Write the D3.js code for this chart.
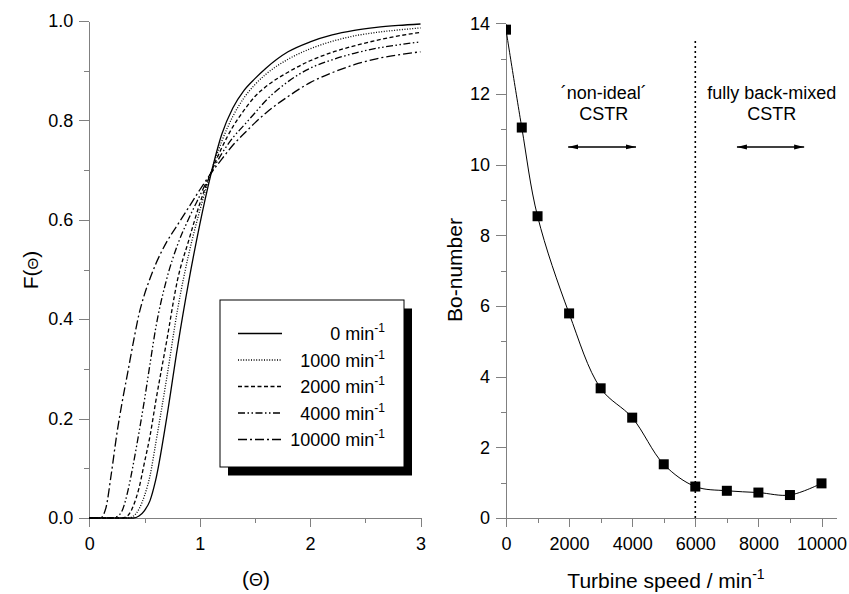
<!DOCTYPE html>
<html>
<head>
<meta charset="utf-8">
<script src="https://cdn.jsdelivr.net/npm/d3@7/dist/d3.min.js"></script>
<style>
  body { margin: 0; background: #fff; }
  svg { display: block; font-family: "Liberation Sans", Arial, sans-serif; }
  .axis path, .axis line { stroke: #808080; shape-rendering: crispEdges; }
  .axis text { fill: #000; font-size: 18px; font-family: "Liberation Sans", Arial, sans-serif; }
</style>
</head>
<body>
<div id="viewportContainer"></div>
<script>
/* --- ビューポート --- */
const viewport = {width: 849, height: 594};
const leftArea = {left: 89.3, right: 420.5, top: 21, bottom: 518};
const rightArea = {left: 506, right: 821.5, top: 23.3, bottom: 518};

/* --- データ（左：F(Θ)曲線） --- */
const thetaValues = [0, 0.1, 0.15, 0.2, 0.25, 0.3, 0.35, 0.4, 0.45, 0.5, 0.55, 0.6, 0.7, 0.8, 0.9,
    1.0, 1.1, 1.2, 1.3, 1.4, 1.5, 1.6, 1.8, 2.0, 2.2, 2.4, 2.6, 2.8, 3.0];
const F0 = [0, 0, 0, 0, 0, 0, 0, 0, 0.004, 0.015, 0.035, 0.075, 0.20, 0.345, 0.475,
    0.59, 0.69, 0.772, 0.825, 0.86, 0.884, 0.905, 0.938, 0.958, 0.972, 0.981, 0.987, 0.991, 0.994];
const F1000 = [0, 0, 0, 0, 0, 0, 0, 0.004, 0.018, 0.045, 0.085, 0.148, 0.28, 0.42, 0.53,
    0.618, 0.694, 0.758, 0.808, 0.845, 0.872, 0.893, 0.923, 0.944, 0.959, 0.970, 0.977, 0.982, 0.986];
const F2000 = [0, 0, 0, 0, 0, 0, 0.005, 0.025, 0.06, 0.112, 0.165, 0.232, 0.355, 0.48, 0.558,
    0.632, 0.694, 0.745, 0.787, 0.82, 0.848, 0.868, 0.897, 0.92, 0.937, 0.95, 0.961, 0.97, 0.977];
const F4000 = [0, 0, 0, 0, 0.003, 0.016, 0.055, 0.11, 0.172, 0.238, 0.31, 0.38, 0.48, 0.55, 0.602,
    0.648, 0.693, 0.733, 0.765, 0.79, 0.815, 0.84, 0.878, 0.905, 0.922, 0.935, 0.945, 0.952, 0.958];
const F10000 = [0, 0, 0.02, 0.09, 0.17, 0.236, 0.295, 0.355, 0.41, 0.45, 0.482, 0.51, 0.555, 0.59, 0.625,
    0.66, 0.693, 0.722, 0.75, 0.773, 0.795, 0.815, 0.848, 0.876, 0.896, 0.912, 0.924, 0.932, 0.938];

const seriesLabels = ["0", "1000", "2000", "4000", "10000"];
const seriesValues = [F0, F1000, F2000, F4000, F10000];
const seriesDash = ["none", "1,1.6", "4,2.5", "7,2.5,1.5,2.5,1.5,2.5", "9,3,2,3"];

/* --- データ（右：Bo数） --- */
const turbineSpeed = [0, 500, 1000, 2000, 3000, 4000, 5000, 6000, 7000, 8000, 9000, 10000];
const boNumber = [13.82, 11.05, 8.54, 5.79, 3.67, 2.84, 1.52, 0.89, 0.77, 0.72, 0.65, 0.98];

/* --- 目盛り --- */
const leftXTicks = [0, 1, 2, 3];
const leftXMinor = [0.5, 1.5, 2.5];
const leftYTicks = [0, 0.2, 0.4, 0.6, 0.8, 1.0];
const leftYMinor = [0.1, 0.3, 0.5, 0.7, 0.9];
const rightXTicks = [0, 2000, 4000, 6000, 8000, 10000];
const rightXMinor = [1000, 3000, 5000, 7000, 9000];
const rightYTicks = [0, 2, 4, 6, 8, 10, 12, 14];
const rightYMinor = [1, 3, 5, 7, 9, 11, 13];


/*--- SVG作成 ---*/
const svg = d3.select("#viewportContainer").append("svg")
    .attr("width", viewport.width)
    .attr("height", viewport.height);

const defs = svg.append("defs");

defs.append("clipPath").attr("id", "clipRight")
    .append("rect")
    .attr("x", rightArea.left).attr("y", 0)
    .attr("width", 340).attr("height", rightArea.bottom);

["arrowEnd", "arrowStart"].forEach(function(id, i) {
    defs.append("marker")
        .attr("id", id)
        .attr("viewBox", "0 0 10 6")
        .attr("refX", i === 0 ? 10 : 0).attr("refY", 3)
        .attr("markerWidth", 10).attr("markerHeight", 6)
        .attr("markerUnits", "userSpaceOnUse")
        .attr("orient", "auto")
        .append("path")
        .attr("d", i === 0 ? "M0,0.6 L10,3 L0,5.4 Z" : "M10,0.6 L0,3 L10,5.4 Z")
        .attr("fill", "#000");
});


/*--- スケール ---*/
const xLeft = d3.scaleLinear().domain([0, 3]).range([leftArea.left, leftArea.right]);
const yLeft = d3.scaleLinear().domain([0, 1]).range([leftArea.bottom, leftArea.top]);
const xRight = d3.scaleLinear().domain([0, 10000]).range([rightArea.left, rightArea.right]);
const yRight = d3.scaleLinear().domain([0, 14]).range([rightArea.bottom, rightArea.top]);


/*--- 軸を描く関数 ---*/
let drawAxis = function(axisFn, scale, major, minor, fmt, transform, tickLen, pad, rangeExtent) {
    const g = svg.append("g").attr("class", "axis").attr("transform", transform);
    g.call(axisFn(scale).tickValues(minor).tickFormat("").tickSizeInner(5).tickSizeOuter(0));
    g.selectAll(".domain").remove();
    const gm = svg.append("g").attr("class", "axis").attr("transform", transform);
    gm.call(axisFn(scale).tickValues(major).tickFormat(fmt).tickSizeInner(tickLen).tickPadding(pad).tickSizeOuter(0));
    if (rangeExtent) {
        gm.select(".domain").attr("d", rangeExtent);
    }
    return gm;
};

/* 左グラフの軸 */
drawAxis(d3.axisBottom, xLeft, leftXTicks, leftXMinor, d3.format("d"),
    "translate(0," + leftArea.bottom + ")", 9, 10);
drawAxis(d3.axisLeft, yLeft, leftYTicks, leftYMinor, d3.format(".1f"),
    "translate(" + leftArea.left + ",0)", 10, 6);

/* 右グラフの軸 */
const rightXEnd = xRight(10500);
drawAxis(d3.axisBottom, xRight, rightXTicks, rightXMinor, d3.format("d"),
    "translate(0," + rightArea.bottom + ")", 9, 10,
    "M" + rightArea.left + ",0H" + rightXEnd);
drawAxis(d3.axisLeft, yRight, rightYTicks, rightYMinor, d3.format("d"),
    "translate(" + rightArea.left + ",0)", 10, 6);


/*--- 左グラフ：曲線 ---*/
const lineLeft = d3.line()
    .x(function(d) { return xLeft(d[0]); })
    .y(function(d) { return yLeft(d[1]); })
    .curve(d3.curveMonotoneX);

const curveData = seriesValues.map(function(vals, i) {
    return {label: seriesLabels[i], dash: seriesDash[i], points: thetaValues.map(function(t, j) { return [t, vals[j]]; })};
});

svg.append("g").attr("id", "curves")
    .selectAll("path")
    .data(curveData)
    .enter().append("path")
    .attr("d", function(d) { return lineLeft(d.points); })
    .attr("fill", "none")
    .attr("stroke", "#000")
    .attr("stroke-width", 1.3)
    .attr("stroke-dasharray", function(d) { return d.dash; });


/*--- 凡例 ---*/
const legend = svg.append("g").attr("id", "legend");
legend.append("rect")
    .attr("x", 228).attr("y", 308.5).attr("width", 184).attr("height", 167)
    .attr("fill", "#000");
legend.append("rect")
    .attr("x", 220).attr("y", 300).attr("width", 184).attr("height", 167)
    .attr("fill", "#fff").attr("stroke", "#000").attr("stroke-width", 1);

const legendRows = legend.selectAll(".row")
    .data(curveData)
    .enter().append("g")
    .attr("class", "row")
    .attr("transform", function(d, i) { return "translate(0," + (333.5 + i * 26.5) + ")"; });

legendRows.append("line")
    .attr("x1", 238).attr("x2", 282).attr("y1", 0).attr("y2", 0)
    .attr("stroke", "#000").attr("stroke-width", 1.3)
    .attr("stroke-dasharray", function(d) { return d.dash; });

const legendText = legendRows.append("text")
    .attr("x", 385).attr("y", 6.5)
    .attr("text-anchor", "end")
    .attr("font-size", 18);
legendText.append("tspan").text(function(d) { return d.label + " min"; });
legendText.append("tspan").attr("dy", -8).attr("font-size", 12).text("-1");


/*--- 右グラフ：Bo数 ---*/
const boData = turbineSpeed.map(function(s, i) { return {speed: s, bo: boNumber[i]}; });

const rightPlot = svg.append("g").attr("clip-path", "url(#clipRight)");

rightPlot.append("path")
    .datum(boData)
    .attr("d", d3.line()
        .x(function(d) { return xRight(d.speed); })
        .y(function(d) { return yRight(d.bo); })
        .curve(d3.curveCatmullRom.alpha(0.5)))
    .attr("fill", "none")
    .attr("stroke", "#000")
    .attr("stroke-width", 1);

rightPlot.selectAll(".sq")
    .data(boData)
    .enter().append("rect")
    .attr("class", "sq")
    .attr("x", function(d) { return xRight(d.speed) - 5; })
    .attr("y", function(d) { return yRight(d.bo) - 5; })
    .attr("width", 10).attr("height", 10)
    .attr("fill", "#000");

/* 6000 min-1 の点線 */
svg.append("line")
    .attr("x1", xRight(6000)).attr("x2", xRight(6000))
    .attr("y1", yRight(13.5)).attr("y2", yRight(0))
    .attr("stroke", "#000").attr("stroke-width", 1.6)
    .attr("stroke-dasharray", "2,3");

/* 注釈 */
const annoText = [
    {x: 3100, y: 11.86, text: "\u00B4non-ideal\u00B4"},
    {x: 3100, y: 11.27, text: "CSTR"},
    {x: 8420, y: 11.86, text: "fully back-mixed"},
    {x: 8420, y: 11.27, text: "CSTR"}
];
svg.selectAll(".anno")
    .data(annoText)
    .enter().append("text")
    .attr("class", "anno")
    .attr("x", function(d) { return xRight(d.x); })
    .attr("y", function(d) { return yRight(d.y); })
    .attr("text-anchor", "middle")
    .attr("font-size", 18)
    .text(function(d) { return d.text; });

const annoArrows = [[1970, 4120], [7320, 9450]];
svg.selectAll(".arrow")
    .data(annoArrows)
    .enter().append("line")
    .attr("class", "arrow")
    .attr("x1", function(d) { return xRight(d[0]); })
    .attr("x2", function(d) { return xRight(d[1]); })
    .attr("y1", yRight(10.5)).attr("y2", yRight(10.5))
    .attr("stroke", "#000").attr("stroke-width", 1.3)
    .attr("marker-start", "url(#arrowStart)")
    .attr("marker-end", "url(#arrowEnd)");


/*--- 軸タイトル ---*/
const tLeftY = svg.append("text")
    .attr("transform", "translate(38,270) rotate(-90)")
    .attr("text-anchor", "middle")
    .attr("font-size", 21);
tLeftY.append("tspan").text("F(");
tLeftY.append("tspan").attr("font-size", 15).text("\u0398");
tLeftY.append("tspan").text(")");

const tLeftX = svg.append("text")
    .attr("x", 256).attr("y", 586)
    .attr("text-anchor", "middle")
    .attr("font-size", 21);
tLeftX.append("tspan").text("(");
tLeftX.append("tspan").attr("font-size", 18).text("\u0398");
tLeftX.append("tspan").text(")");

svg.append("text")
    .attr("transform", "translate(462,270) rotate(-90)")
    .attr("text-anchor", "middle")
    .attr("font-size", 21)
    .text("Bo-number");

const tRightX = svg.append("text")
    .attr("x", 666).attr("y", 588)
    .attr("text-anchor", "middle")
    .attr("font-size", 21);
tRightX.append("tspan").text("Turbine speed / min");
tRightX.append("tspan").attr("dy", -9).attr("font-size", 14).text("-1");
</script>
</body>
</html>
